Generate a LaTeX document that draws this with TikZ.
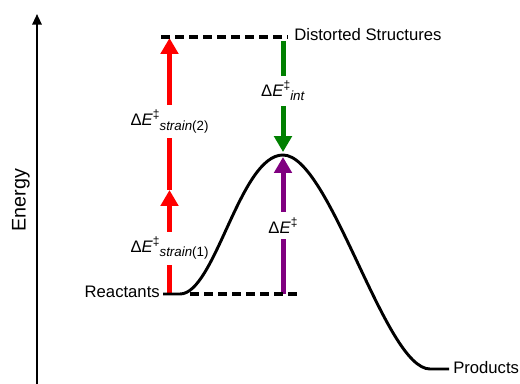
\documentclass[tikz,border=0pt]{standalone}
\usepackage{fontspec}
\setmainfont{Liberation Sans}
\usepackage{tikz}
\usetikzlibrary{arrows.meta, positioning, calc}
\usepackage{xcolor}
\definecolor{strainred}{RGB}{255,0,0}
\definecolor{intgreen}{RGB}{0,128,0}
\definecolor{barrierpurple}{RGB}{128,0,128}
\newcommand{\dEts}{Δ\textit{E}\raisebox{5pt}{\fontsize{9}{10}\selectfont ‡}}
\newcommand{\lowpart}[1]{\raisebox{-3.5pt}{\fontsize{10}{12}\selectfont #1}}

\begin{document}
\begin{tikzpicture}[
  x=0.75pt, y=-0.75pt,
  font=\fontsize{12.5}{15}\selectfont,
  >=Stealth,
  % Energy arrows
  energyarrow/.style={
    line width=3.75pt, -{Triangle[width=13pt, length=12pt]}
  },
  strain/.style={energyarrow, draw=strainred},
  interaction/.style={energyarrow, draw=intgreen},
  barrier/.style={energyarrow, draw=barrierpurple},
  gaplabel/.style={fill=white, inner xsep=0pt, inner ysep=4pt},
  % Levels and profile
  level/.style={line width=2.3pt, dash pattern=on 7pt off 3.5pt},
  profile/.style={line width=2.2pt},
  axis/.style={line width=1.5pt, -{Triangle[width=7pt, length=8pt]}},
  state/.style={inner sep=0pt}
]
\useasboundingbox (0,0) rectangle (520,384);

% Energy axis
\coordinate (axbot) at (37,386);
\coordinate (axtop) at (37,14);
\draw[axis] (axbot) -- (axtop);
\node[rotate=90, font=\fontsize{14.8}{17}\selectfont] (energy) at (21,200) {Energy};

% Key points
\coordinate (reac) at (169.5,294);
\coordinate (mid) at (169.5,190);
\coordinate (dist) at (169.5,38);
\coordinate (ts) at (283,155);
\coordinate (tsbase) at (283,294);
\coordinate (tstop) at (283,41);

% Strain, interaction and barrier arrows
\draw[strain] (reac) -- node[gaplabel, pos=0.44] (strainone)
  {\dEts\lowpart{\textit{strain}(1)}} (mid);
\draw[strain] (mid) -- node[gaplabel, pos=0.45] (straintwo)
  {\dEts\lowpart{\textit{strain}(2)}} (dist);
\draw[interaction] (tstop) -- node[gaplabel, pos=0.45] (eint)
  {\dEts\lowpart{\textit{int}}} ([yshift=2.2pt]ts);
\draw[barrier] (tsbase) -- node[gaplabel, pos=0.5] (eact)
  {\dEts} ([yshift=-1.5pt]ts);

% Levels
\node[state, anchor=base east] (reactants) at (160,297) {Reactants};
\node[state, anchor=base west] (distorted) at (294,41) {Distorted Structures};
\node[state, anchor=base west] (products) at (453,373) {Products};

\draw[level] (161,37) -- (288,37);
\draw[level] (190,294) -- (298,294);

% Reaction profile
\draw[profile] (163,294) -- (180,294)
  .. controls (215,294) and (240,155) .. (ts)
  .. controls (330,155) and (385,369) .. (430,369) -- (449,369);

\end{tikzpicture}
\end{document}
